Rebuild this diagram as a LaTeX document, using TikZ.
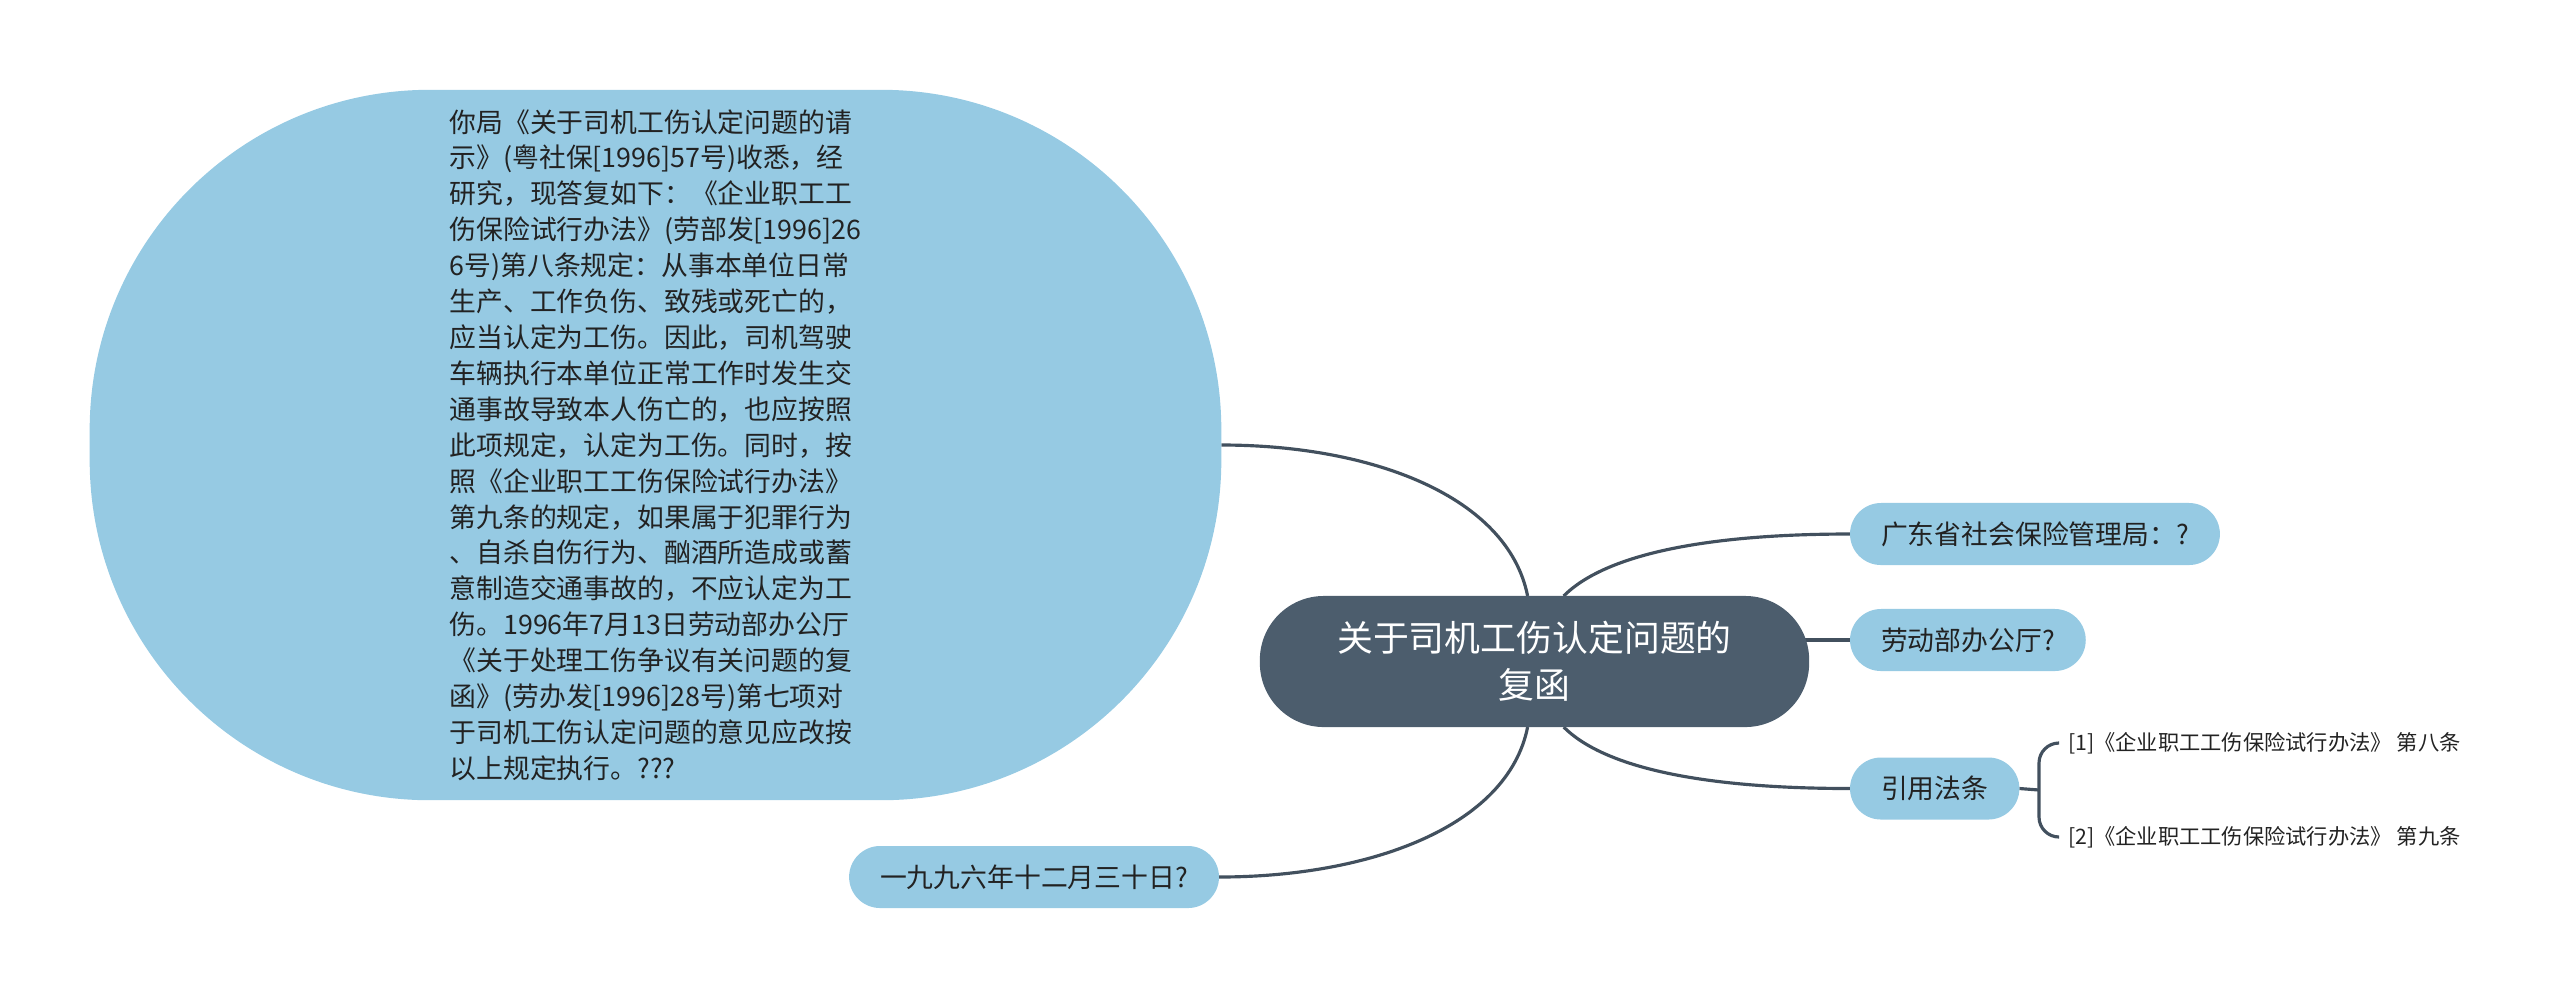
\documentclass[tikz,border=0pt]{standalone}
\usepackage{fontspec}
\setmainfont{Noto Sans CJK SC}
\usetikzlibrary{backgrounds}
\definecolor{topicblue}{RGB}{150,202,227}
\definecolor{rootslate}{RGB}{76,93,109}
\definecolor{linkslate}{RGB}{66,80,94}
\definecolor{inkgray}{RGB}{34,34,34}
\begin{document}
\begin{tikzpicture}[x=0.01cm, y=-0.01cm,
  conn/.style={draw=linkslate, line width=0.9pt},
  topic/.style={fill=topicblue, text=inkgray, rounded corners=0.31cm, minimum height=0.62cm,
    inner xsep=0.31cm, inner ysep=0pt, outer sep=0pt, font=\fontsize{7.63}{10}\selectfont},
  leaf/.style={text=inkgray, inner sep=0pt, outer sep=0pt, font=\fontsize{6.05}{7}\selectfont}]
\useasboundingbox (0,0) rectangle (2560,999);
% central topic
\node[fill=rootslate, text=white, rounded corners=0.64cm, minimum width=5.49cm, minimum height=1.31cm,
  align=center, outer sep=0pt, font=\fontsize{10.2}{13.4}\selectfont] (root) at (1534.5,661.5)
  {关于司机工伤认定问题的\\复函};
% left branch
\node[fill=topicblue, text=inkgray, rounded corners=3.4cm, minimum width=11.31cm, minimum height=7.1cm,
  inner sep=0pt, align=left, outer sep=0pt, font=\fontsize{7.63}{10.21}\selectfont] (reply) at (655.5,445)
  {你局《关于司机工伤认定问题的请\\
   示》(粤社保[1996]57号)收悉，经\\
   研究，现答复如下：《企业职工工\\
   伤保险试行办法》(劳部发[1996]26\\
   6号)第八条规定：从事本单位日常\\
   生产、工作负伤、致残或死亡的，\\
   应当认定为工伤。因此，司机驾驶\\
   车辆执行本单位正常工作时发生交\\
   通事故导致本人伤亡的，也应按照\\
   此项规定，认定为工伤。同时，按\\
   照《企业职工工伤保险试行办法》\\
   第九条的规定，如果属于犯罪行为\\
   、自杀自伤行为、酗酒所造成或蓄\\
   意制造交通事故的，不应认定为工\\
   伤。1996年7月13日劳动部办公厅\\
   《关于处理工伤争议有关问题的复\\
   函》(劳办发[1996]28号)第七项对\\
   于司机工伤认定问题的意见应改按\\
   以上规定执行。???};
\node[topic, anchor=east] (date) at (1219,877) {一九九六年十二月三十日?};
% right branch
\node[topic, anchor=west] (gd) at (1850,534) {广东省社会保险管理局：?};
\node[topic, anchor=west] (ldb) at (1850,640) {劳动部办公厅?};
\node[topic, anchor=west] (yy) at (1850,788.5) {引用法条};
\node[leaf, anchor=west] (l1) at (2068,743) {[1]《企业职工工伤保险试行办法》 第八条};
\node[leaf, anchor=west] (l2) at (2068,837) {[2]《企业职工工伤保险试行办法》 第九条};
\coordinate (brk) at (2039,790);
% links
\begin{scope}[on background layer]
\draw[conn] (root.96.5) .. controls +(-20,-100) and +(150,0) .. (reply.east);
\draw[conn] (root.-96.5) .. controls +(-20,100) and +(150,0) .. (date.east);
\draw[conn] (root.66.5) .. controls +(40,-40) and +(-150,0) .. (gd.west);
\draw[conn] (root.center |- ldb.west) -- (ldb.west);
\draw[conn] (root.-66.5) .. controls +(40,40) and +(-150,0) .. (yy.west);
\draw[conn] (yy.east) -- (brk);
\draw[conn, rounded corners=0.2cm] ([xshift=-0.1cm]l1.west) -| (brk) |- ([xshift=-0.1cm]l2.west);
\end{scope}
\end{tikzpicture}
\end{document}
